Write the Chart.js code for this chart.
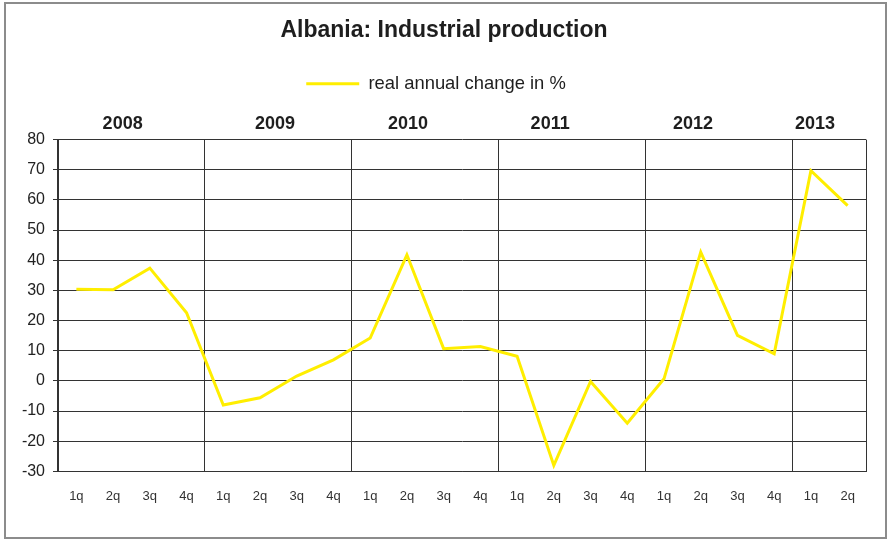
<!DOCTYPE html>
<html>
<head>
<meta charset="utf-8">
<title>Albania: Industrial production</title>
<script src="https://cdn.jsdelivr.net/npm/chart.js@4/dist/chart.umd.min.js"></script>
<style>
  html, body { margin: 0; padding: 0; background: #fff; }
  #contenedor { position: relative; width: 888px; height: 540px; }
</style>
</head>
<body>
<div id="contenedor"><canvas id="grafico"></canvas></div>
<script>
// Datos: variación anual real de la producción industrial (%), por trimestre
const anios = ["2008", "2009", "2010", "2011", "2012", "2013"];
const trimestresPorAnio = [4, 4, 4, 4, 4, 2];
const trimestres = [
  "1q", "2q", "3q", "4q",
  "1q", "2q", "3q", "4q",
  "1q", "2q", "3q", "4q",
  "1q", "2q", "3q", "4q",
  "1q", "2q", "3q", "4q",
  "1q", "2q"
];
const variacionReal = [
  30.4, 30.2, 37.4, 22.6,
  -8.0, -5.6, 1.6, 7.0,
  14.2, 41.8, 10.7, 11.4,
  8.2, -28.0, -0.2, -14.0,
  0.7, 42.7, 15.1, 9.0,
  69.7, 58.1
];
const ejeYMin = -30;
const ejeYMax = 80;
const ejeYPaso = 10;

// Desplazamiento de cada rótulo de año respecto al centro de sus trimestres (en trimestres)
const ajusteAnio = [-0.24, -0.09, -0.47, -0.6, -0.71, -0.39];

const colorTexto = "#1e1e1e";
const colorRejilla = "#333333";
const fuente = "'Liberation Sans', Arial, sans-serif";

// Índices donde empieza cada año (para separadores y rótulos)
const inicioAnio = [];
trimestresPorAnio.reduce((acc, n) => { inicioAnio.push(acc); return acc + n; }, 0);

// Marco gris alrededor del gráfico; la leyenda va un poco a la izquierda del centro
const marco = {
  id: "marco",
  afterLayout(chart) {
    chart.legend.left -= 8;
    chart.legend.right -= 8;
  },
  beforeDraw(chart) {
    const ctx = chart.ctx;
    ctx.save();
    ctx.fillStyle = "#fff";
    ctx.fillRect(0, 0, chart.width, chart.height);
    ctx.strokeStyle = "#8c8c8c";
    ctx.lineWidth = 2;
    ctx.strokeRect(5, 3, chart.width - 7, chart.height - 5);
    ctx.restore();
  }
};

const ctx = document.getElementById("grafico").getContext("2d");
new Chart(ctx, {
  type: "line",
  data: {
    labels: trimestres,
    datasets: [{
      label: "real annual change in %",
      data: variacionReal,
      borderColor: "#ffee00",
      backgroundColor: "#ffee00",
      borderWidth: 3,
      pointRadius: 0,
      tension: 0,
      xAxisID: "x"
    }]
  },
  options: {
    responsive: true,
    maintainAspectRatio: false,
    animation: false,
    layout: { padding: { left: 0, right: 0, top: 0, bottom: 19 } },
    plugins: {
      title: {
        display: true,
        text: "Albania: Industrial production",
        color: colorTexto,
        font: { family: fuente, size: 23, weight: "bold" },
        padding: { top: 17, bottom: 20 }
      },
      legend: {
        display: true,
        labels: {
          color: colorTexto,
          font: { family: fuente, size: 18.4 },
          usePointStyle: true,
          pointStyle: "line",
          pointStyleWidth: 53,
          padding: 10
        }
      },
      tooltip: { enabled: false }
    },
    scales: {
      x: {
        type: "category",
        offset: true,
        grid: {
          offset: true,
          drawTicks: false,
          lineWidth: 1,
          // sólo los separadores entre años y el borde derecho
          color: c => (c.index === undefined || inicioAnio.includes(c.index)) ? colorRejilla : "rgba(0,0,0,0)"
        },
        border: { display: true, color: colorRejilla, width: 1 },
        ticks: {
          color: "#333",
          font: { family: fuente, size: 13 },
          padding: 17,
          autoSkip: false,
          maxRotation: 0
        }
      },
      anios: {
        type: "linear",
        position: "top",
        min: -0.5,
        max: trimestres.length - 0.5,
        grid: { display: false, drawTicks: false },
        border: { display: false },
        afterBuildTicks: escala => {
          escala.ticks = anios.map((a, i) => ({
            value: inicioAnio[i] + (trimestresPorAnio[i] - 1) / 2 + ajusteAnio[i]
          }));
        },
        afterFit: escala => { escala.height += 5; },
        ticks: {
          color: colorTexto,
          font: { family: fuente, size: 18, weight: "bold" },
          padding: 5,
          autoSkip: false,
          maxRotation: 0,
          callback: (valor, indice) => anios[indice]
        }
      },
      y: {
        min: ejeYMin,
        max: ejeYMax,
        afterFit: escala => { escala.width = 58; },
        grid: { color: colorRejilla, lineWidth: 1, tickLength: 5 },
        border: { display: true, color: colorRejilla, width: 1 },
        ticks: {
          stepSize: ejeYPaso,
          color: "#222",
          font: { family: fuente, size: 16 },
          padding: 8
        }
      },
      // margen derecho vacío entre el área de trazado y el marco
      margenDerecho: {
        type: "linear",
        position: "right",
        grid: { display: false, drawTicks: false },
        border: { display: false },
        ticks: { display: false },
        afterFit: escala => { escala.width = 22; }
      }
    }
  },
  plugins: [marco]
});
</script>
</body>
</html>
